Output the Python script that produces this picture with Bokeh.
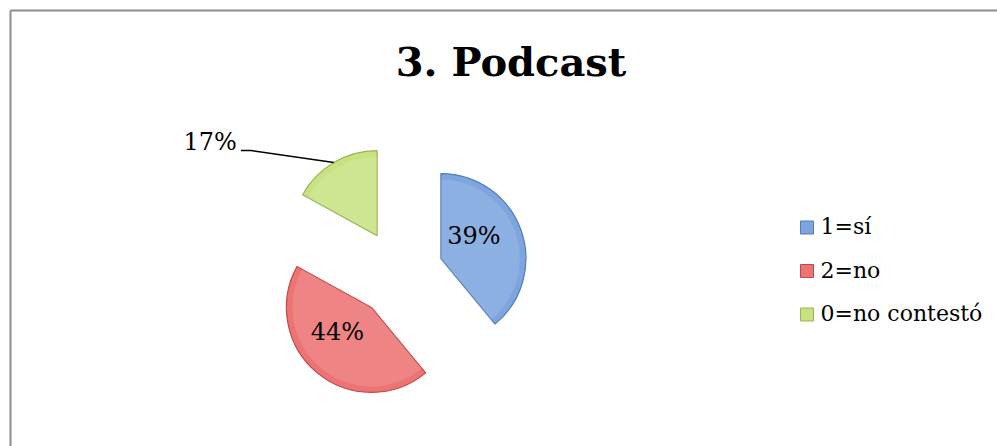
import numpy as np
from bokeh.plotting import figure
from bokeh.models import ColumnDataSource, Range1d
from bokeh.core.properties import value
from bokeh.embed import file_html
from bokeh.resources import INLINE

# ---- data ----
title_text = "3. Podcast"
categories = ["1=sí", "2=no", "0=no contestó"]
percents = [39, 44, 17]
labels = ["39%", "44%", "17%"]
fill_colors = ["#7ea5de", "#ec7474", "#c8e282"]
edge_colors = ["#4f7cc0", "#c04848", "#98b552"]

W, H = 997, 446
FONT = "DejaVu Serif"

p = figure(width=W, height=H, output_backend="svg", toolbar_location=None,
           x_axis_type=None, y_axis_type=None, min_border=0,
           x_range=Range1d(0, W), y_range=Range1d(0, H))
p.outline_line_color = None
p.grid.visible = False
p.background_fill_color = "white"
p.border_fill_color = "white"

# chart area border (left and top edges visible)
p.multi_line(xs=[[10, 10], [10, W + 5]], ys=[[-5, H - 10], [H - 10, H - 10]],
             line_color="#8c8c8c", line_width=2)

# ---- pie geometry ----
cx, cy = 399, H - 273
R = 85
explode = 44

fr = np.array(percents, dtype=float) / sum(percents)
cum = np.concatenate([[0], np.cumsum(fr)])
start = np.pi / 2 - cum[:-1] * 2 * np.pi
end = np.pi / 2 - cum[1:] * 2 * np.pi
mid = (start + end) / 2
px = cx + explode * np.cos(mid)
py = cy + explode * np.sin(mid)

src = ColumnDataSource(dict(x=px, y=py, start=start, end=end, fill=fill_colors,
                            edge=edge_colors, cat=categories, lab=labels))
p.wedge(x="x", y="y", radius=R, start_angle="start", end_angle="end",
        direction="clock", fill_color="fill", line_color="edge", line_width=1.2,
        source=src)
# soft inner highlight for a bevelled look
p.wedge(x="x", y="y", radius=R - 6, start_angle="start", end_angle="end",
        direction="clock", fill_color="white", fill_alpha=0.12, line_color=None,
        source=src)

# ---- data labels ----
inside = [0, 1]
lx = [px[i] + 0.5 * R * np.cos(mid[i]) - 7 for i in inside]
ly = [py[i] + 0.5 * R * np.sin(mid[i]) + 8 for i in inside]
p.text(x=lx, y=ly, text=[labels[i] for i in inside], text_align="center",
       text_baseline="middle", text_font=value(FONT), text_font_size="24px",
       text_color="black")

# outside label with leader line for the small slice
i = 2
ax = px[i] + R * np.cos(mid[i])
ay = py[i] + R * np.sin(mid[i])
ex, ey = ax - 83, ay + 12
p.line(x=[ax, ex, ex - 10], y=[ay, ey, ey], line_color="black", line_width=1.5)
p.text(x=[ex - 14], y=[ey + 8], text=[labels[i]], text_align="right",
       text_baseline="middle", text_font=value(FONT), text_font_size="24px",
       text_color="black")

# ---- title ----
p.text(x=[W / 2 + 12], y=[H - 61], text=[title_text], text_align="center",
       text_baseline="middle", text_font=value(FONT), text_font_size="40px",
       text_font_style="bold", text_color="black")

# ---- legend (drawn manually) ----
n = len(categories)
leg_top = H - 226
leg_step = 43.5
leg_y = [leg_top - k * leg_step for k in range(n)]
p.rect(x=[806.5] * n, y=[y - 1 for y in leg_y], width=13, height=13,
       fill_color=fill_colors, line_color=edge_colors, line_width=1)
p.text(x=[820] * n, y=leg_y, text=categories, text_align="left",
       text_baseline="middle", text_font=value(FONT), text_font_size="22px",
       text_color="black")

open("out.html", "w").write(file_html(p, INLINE))
